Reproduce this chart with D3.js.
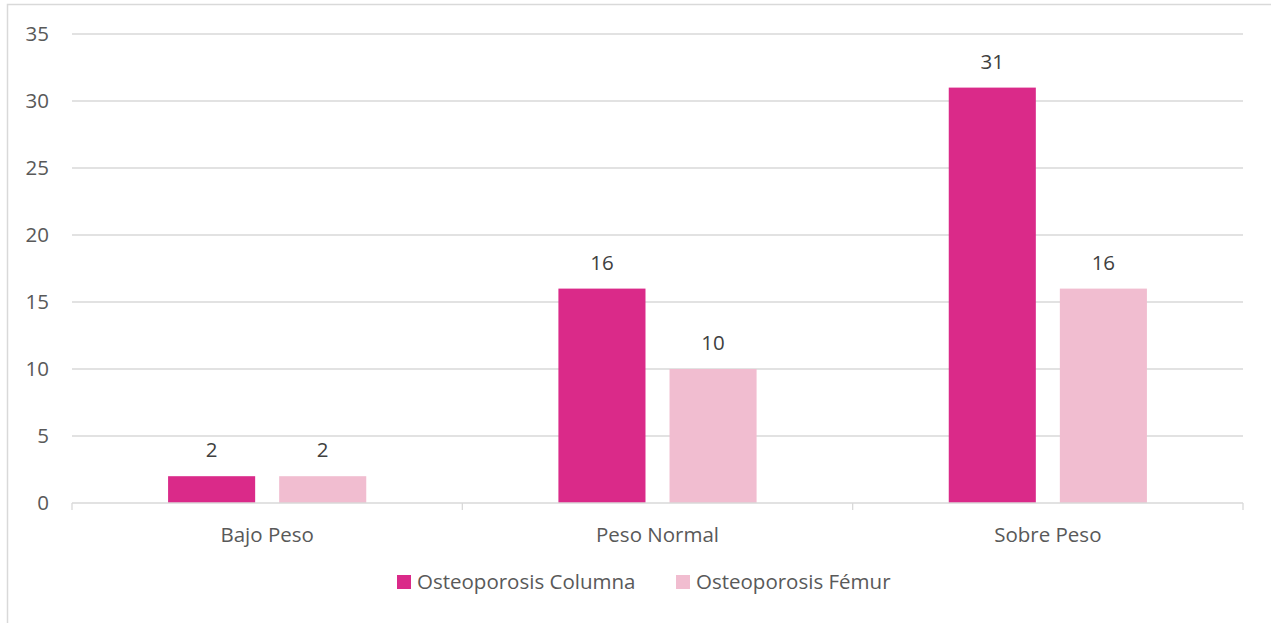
<!DOCTYPE html>
<html><head><meta charset="utf-8">
<script src="https://cdn.jsdelivr.net/npm/d3@7"></script>
<style>body{margin:0;background:#fff;overflow:hidden;}svg{display:block;}</style>
</head><body>
<script>
const categories = ["Bajo Peso", "Peso Normal", "Sobre Peso"];
const seriesNames = ["Osteoporosis Columna", "Osteoporosis Fémur"];
const columna = [2, 16, 31];
const femur = [2, 10, 16];
const yTicks = [0, 5, 10, 15, 20, 25, 30, 35];
const colors = ["#DA2A89", "#F1BDD0"];

(function () {
const W = 1271, H = 623;
const font = "'Open Sans', sans-serif";
const fs = 20.5;
const svg = d3.select("body").append("svg").attr("width", W).attr("height", H);
svg.append("rect").attr("x", 7.5).attr("y", 4.5).attr("width", W + 10).attr("height", H + 10)
  .attr("fill", "#fff").attr("stroke", "#d9d9d9").attr("stroke-width", 1.5);

const pl = 72, pr = 1243, pt = 34, pb = 503;
const x = d3.scaleBand().domain(categories).range([pl, pr]).paddingInner(0).paddingOuter(0);
const bw = x.bandwidth();
const groupW = bw * 198 / 390;
const xs = d3.scaleBand().domain(seriesNames)
  .range([(bw - groupW) / 2, (bw + groupW) / 2]).paddingInner(24 / 111).paddingOuter(0);
const y = d3.scaleLinear().domain([0, 35]).range([pb, pt]);

svg.append("g").selectAll("line").data(yTicks.filter(d => d > 0)).join("line")
  .attr("x1", pl).attr("x2", pr).attr("y1", d => y(d)).attr("y2", d => y(d))
  .attr("stroke", "#d9d9d9").attr("stroke-width", 1.3);

svg.append("g").selectAll("text").data(yTicks).join("text")
  .attr("x", 49).attr("y", d => y(d)).attr("dy", "0.36em").attr("text-anchor", "end")
  .attr("font-family", font).attr("font-size", fs).attr("fill", "#595959").text(d => d);

const series = [columna, femur];
series.forEach((vals, si) => {
  const g = svg.append("g");
  g.selectAll("rect").data(categories).join("rect")
    .attr("x", (c) => x(c) + xs(seriesNames[si])).attr("width", xs.bandwidth())
    .attr("y", (c, i) => y(vals[i])).attr("height", (c, i) => y(0) - y(vals[i]))
    .attr("fill", colors[si]);
  g.selectAll("text").data(categories).join("text")
    .attr("x", (c) => x(c) + xs(seriesNames[si]) + xs.bandwidth() / 2)
    .attr("y", (c, i) => y(vals[i]) - 19)
    .attr("text-anchor", "middle").attr("font-family", font).attr("font-size", fs)
    .attr("fill", "#404040").text((c, i) => vals[i]);
});

const xAxis = svg.append("g").attr("transform", `translate(0,${pb})`)
  .call(d3.axisBottom(x).tickSize(0).tickPadding(24));
xAxis.select(".domain").remove();
xAxis.selectAll("text").attr("font-family", font).attr("font-size", fs).attr("fill", "#595959");
svg.append("line").attr("x1", pl).attr("x2", pr).attr("y1", pb).attr("y2", pb)
  .attr("stroke", "#d9d9d9").attr("stroke-width", 1.3);
const bounds = categories.map(c => x(c)).concat([pr]);
svg.append("g").selectAll("line").data(bounds).join("line")
  .attr("x1", d => d).attr("x2", d => d).attr("y1", pb).attr("y2", pb + 7)
  .attr("stroke", "#d9d9d9").attr("stroke-width", 1.3);

const legX = [397, 676];
const leg = svg.append("g");
seriesNames.forEach((n, i) => {
  leg.append("rect").attr("x", legX[i]).attr("y", 575).attr("width", 14).attr("height", 14).attr("fill", colors[i]);
  leg.append("text").attr("x", legX[i] + 20).attr("y", 582).attr("dy", "0.36em")
    .attr("font-family", font).attr("font-size", fs).attr("fill", "#595959").text(n);
});
})();
</script>
</body></html>
